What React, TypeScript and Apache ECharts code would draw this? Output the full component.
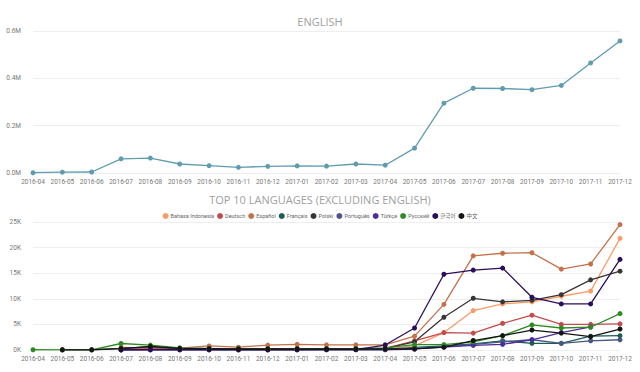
import React, { useEffect, useRef } from "react";
import * as echarts from "echarts";

const months = [
  "2016-04", "2016-05", "2016-06", "2016-07", "2016-08", "2016-09", "2016-10",
  "2016-11", "2016-12", "2017-01", "2017-02", "2017-03", "2017-04", "2017-05",
  "2017-06", "2017-07", "2017-08", "2017-09", "2017-10", "2017-11", "2017-12",
];

const english = [
  1200, 3500, 4200, 60000, 63000, 38000, 31000, 24000, 28000, 30000, 29000,
  38000, 33000, 105000, 295000, 358000, 357000, 352000, 370000, 465000, 558000,
];

const bahasa = [null, null, null, 100, 150, 150, 150, 100, 100, 150, 150, 150, 200, 800, 3400, 7700, 9000, 9400, 10500, 11500, 21800];
const deutsch = [null, null, null, 200, 250, 250, 250, 200, 200, 250, 250, 250, 300, 1800, 3400, 3300, 5200, 6800, 5000, 5000, 5100];
const espanol = [null, null, null, 500, 400, 350, 800, 550, 950, 1100, 1000, 1000, 1000, 2700, 8900, 18400, 18900, 19000, 15800, 16800, 24500];
const francais = [null, null, null, 50, 80, 80, 80, 60, 60, 80, 80, 80, 100, 500, 800, 1200, 1800, 1300, 1300, 2700, 2800];
const polski = [null, 50, 50, 300, 600, 250, 200, 200, 200, 250, 200, 200, 300, 1600, 6400, 10100, 9400, 9700, 10800, 13700, 15400];
const portugues = [null, null, null, 50, 80, 80, 80, 60, 60, 80, 80, 80, 100, 300, 600, 1100, 1600, 2000, 1300, 1800, 2000];
const turkce = [null, null, null, 20, 30, 30, 30, 30, 30, 30, 30, 30, 50, 200, 550, 900, 1100, 2000, 3400, 4500, null];
const russkiy = [50, 20, 20, 1270, 950, 420, 300, 250, 200, 250, 200, 250, 400, 1050, 1050, 1600, 2800, 4900, 4300, 4450, 7100];
const korean = [null, null, null, 30, 50, 50, 50, 50, 50, 50, 60, 80, 970, 4300, 14800, 15600, 16000, 10300, 9000, 9000, 17700];
const chinese = [null, 30, 30, 250, 700, 300, 250, 200, 200, 200, 200, 200, 200, 200, 550, 1850, 2800, 3900, 3300, 2600, 4100];

const languages = [
  "Bahasa Indonesia", "Deutsch", "Español", "Français", "Polski",
  "Português", "Türkçe", "Русский", "한국어", "中文",
];
const languageData = [bahasa, deutsch, espanol, francais, polski, portugues, turkce, russkiy, korean, chinese];
const languageColors = [
  "#FC9A66", "#C24B4B", "#C4714B", "#1A5E55", "#363636",
  "#4A5684", "#4A2E9C", "#2E8A22", "#2B0E5A", "#141414",
];

const FONT = "Roboto, 'Noto Sans', 'Noto Sans CJK KR', 'Noto Sans CJK SC', sans-serif";

export default function App() {
  const ref = useRef<HTMLDivElement>(null);
  useEffect(() => {
    if (!ref.current) return;
    const chart = echarts.init(ref.current, null, { renderer: "svg" });
    const axisLabel = { fontSize: 6.5, color: "#777", fontFamily: FONT };
    const xAxisBase = {
      type: "category",
      data: months,
      boundaryGap: false,
      axisLine: { show: false },
      axisTick: { show: false },
      axisLabel: { ...axisLabel, interval: 0, margin: 6 },
      splitLine: { show: false },
    };
    const yAxisBase = {
      type: "value",
      min: 0,
      axisLine: { show: false },
      axisTick: { show: false },
      splitLine: { show: true, lineStyle: { color: "#EEEEEE", width: 1 } },
    };
    chart.setOption({
      animation: false,
      backgroundColor: "#FFFFFF",
      textStyle: { fontFamily: FONT },
      title: [
        {
          text: "ENGLISH",
          left: "center",
          top: 11,
          textStyle: { fontSize: 11, fontWeight: "normal", color: "#A0A0A0", fontFamily: "'Open Sans', sans-serif" },
        },
        {
          text: "TOP 10 LANGUAGES (EXCLUDING ENGLISH)",
          left: "center",
          top: 189,
          textStyle: { fontSize: 11, fontWeight: "normal", color: "#A0A0A0", fontFamily: "'Open Sans', sans-serif" },
        },
      ],
      legend: {
        data: languages,
        top: 208,
        left: "center",
        icon: "circle",
        itemWidth: 6,
        itemHeight: 6,
        itemGap: 3,
        textStyle: { fontSize: 5.5, color: "#666", fontFamily: FONT, padding: [0, 0, 0, -3] },
      },
      grid: [
        { left: 33, right: 20, top: 31, height: 142 },
        { left: 33, right: 20, top: 222, height: 128 },
      ],
      xAxis: [
        { ...xAxisBase, gridIndex: 0 },
        { ...xAxisBase, gridIndex: 1 },
      ],
      yAxis: [
        {
          ...yAxisBase,
          gridIndex: 0,
          max: 600000,
          interval: 200000,
          axisLabel: { ...axisLabel, margin: 12, formatter: (v: number) => (v / 1e6).toFixed(1) + "M" },
        },
        {
          ...yAxisBase,
          gridIndex: 1,
          max: 25000,
          interval: 5000,
          axisLabel: { ...axisLabel, margin: 12, formatter: (v: number) => v / 1000 + "K" },
        },
      ],
      series: [
        {
          name: "English",
          type: "line",
          xAxisIndex: 0,
          yAxisIndex: 0,
          data: english,
          symbol: "circle",
          symbolSize: 5,
          lineStyle: { width: 1.3, color: "#5E9CAE" },
          itemStyle: { color: "#5E9CAE" },
        },
        ...languages.map((name, i) => ({
          name,
          type: "line",
          xAxisIndex: 1,
          yAxisIndex: 1,
          data: languageData[i],
          symbol: "circle",
          symbolSize: 5,
          lineStyle: { width: 1.3, color: languageColors[i] },
          itemStyle: { color: languageColors[i] },
        })),
      ],
    });
    return () => chart.dispose();
  }, []);
  return (
    <div
      ref={ref}
      style={{ position: "fixed", left: 0, top: 0, width: 640, height: 372 }}
    />
  );
}
